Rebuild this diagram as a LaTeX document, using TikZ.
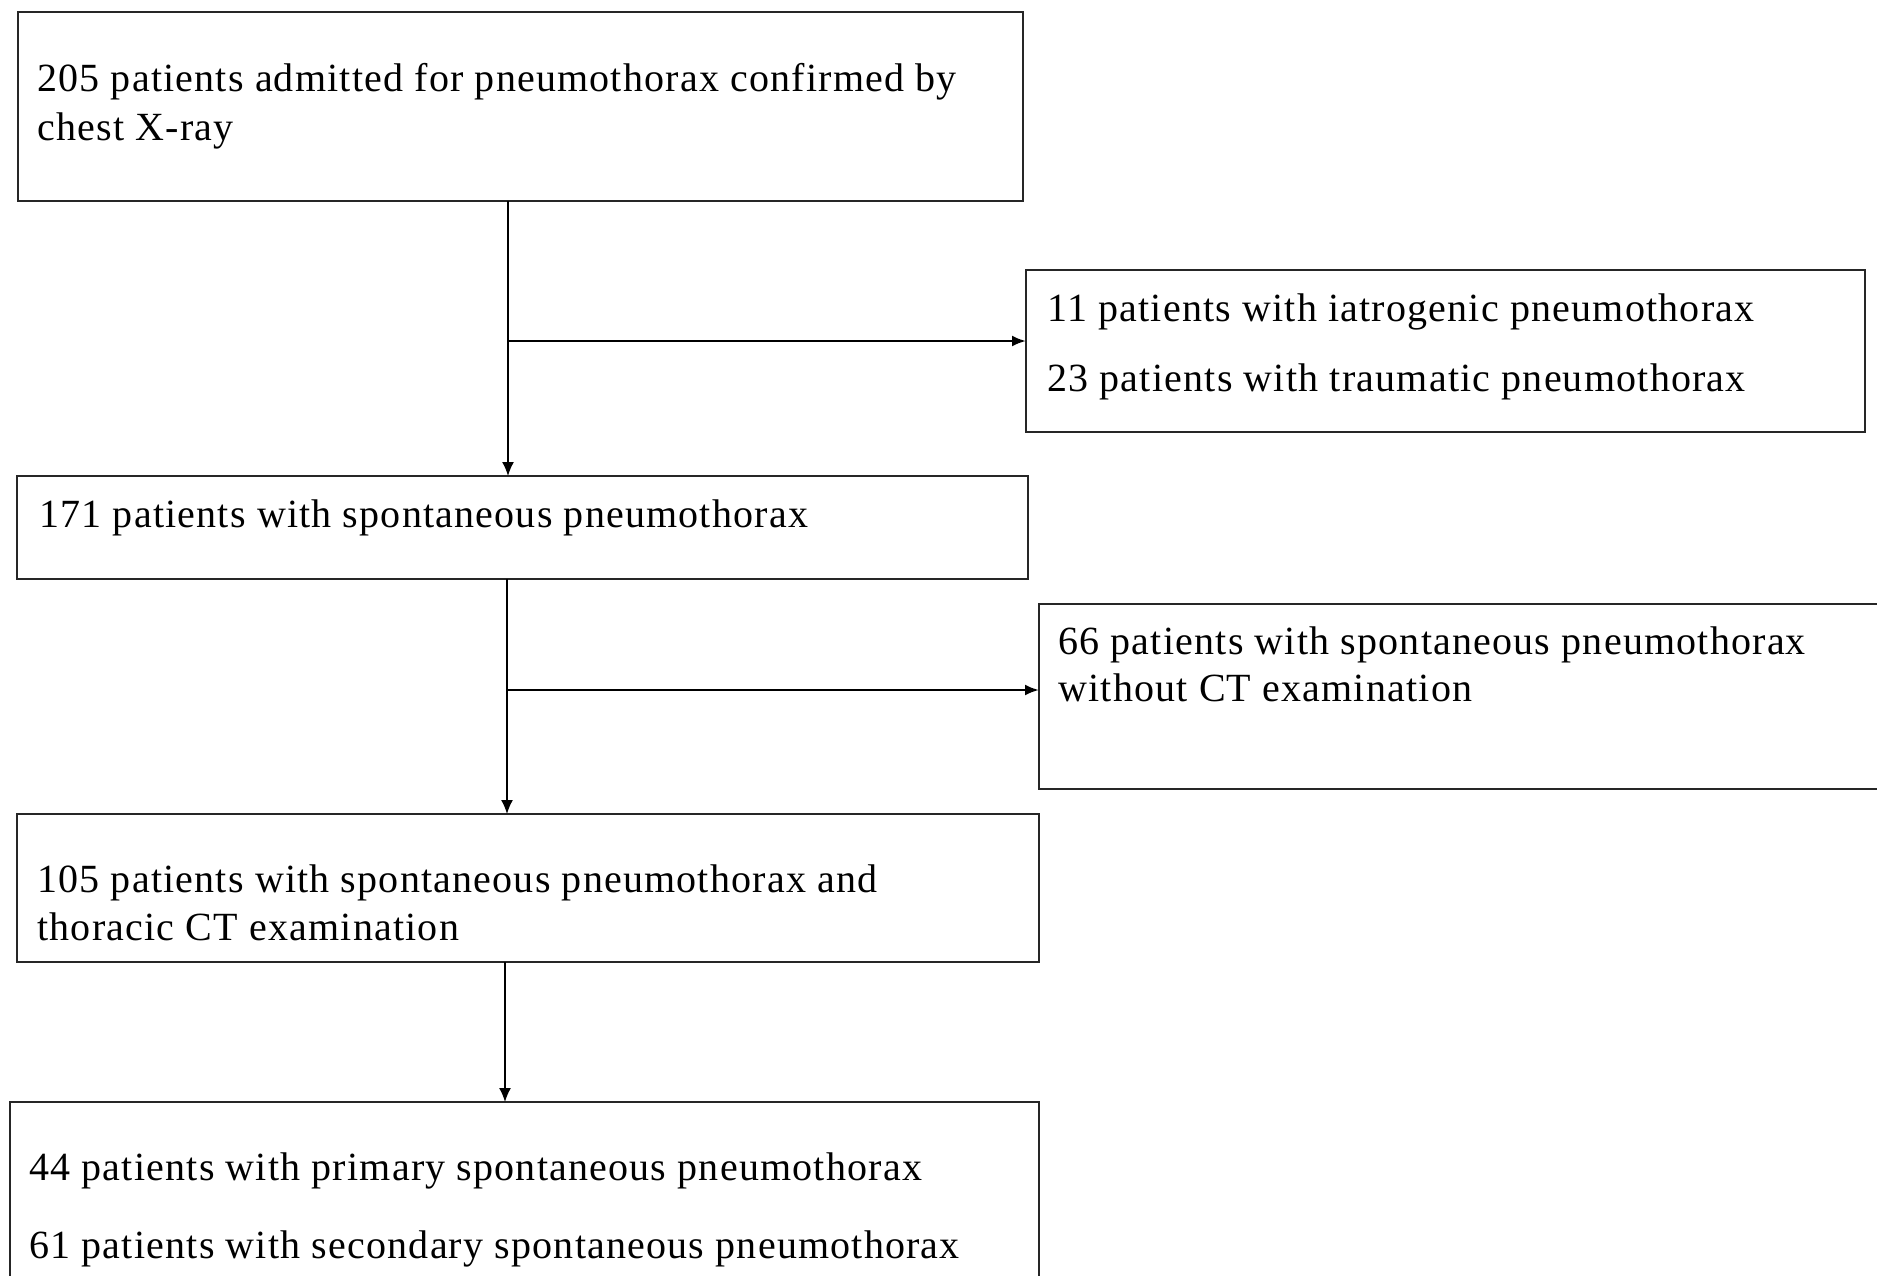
\documentclass[tikz,border=0pt]{standalone}
\usepackage{fontspec}
\setmainfont{Liberation Serif}[LetterSpace=3]
\usetikzlibrary{arrows.meta}
\begin{document}
\begin{tikzpicture}[x=0.5pt,y=-0.5pt,
  box/.style={draw=black!85,line width=1.1pt,inner sep=0pt,outer sep=0pt},
  txt/.style={anchor=base west,inner sep=0pt,font=\fontsize{20pt}{24pt}\selectfont},
  arr/.style={draw=black,line width=0.8pt,-{Latex[length=7pt,width=6pt]}},
  harr/.style={draw=black,line width=1.2pt,-{Latex[length=7pt,width=5.5pt]}}]
\useasboundingbox[fill=white] (0,0) rectangle (1877,1275);
% boxes
\node[box,minimum width=1005pt/2,minimum height=189pt/2,anchor=north west] (b1) at (18,12) {};
\node[box,minimum width=1011pt/2,minimum height=103pt/2,anchor=north west] (b2) at (17,476) {};
\node[box,minimum width=1022pt/2,minimum height=148pt/2,anchor=north west] (b3) at (17,814) {};
\node[box,minimum width=1029pt/2,minimum height=190pt/2,anchor=north west] (b4) at (10,1102) {};
\node[box,minimum width=839pt/2,minimum height=162pt/2,anchor=north west] (s1) at (1026,270) {};
\node[box,minimum width=850pt/2,minimum height=185pt/2,anchor=north west] (s2) at (1039,604) {};
% texts
\node[txt] (t1a) at (37,91) {205 patients admitted for pneumothorax confirmed by};
\node[txt] (t1b) at (37,140) {chest X-ray};
\node[txt] (t2) at (39,527) {171 patients with spontaneous pneumothorax};
\node[txt] (t3a) at (37,892) {105 patients with spontaneous pneumothorax and};
\node[txt] (t3b) at (37,940) {thoracic CT examination};
\node[txt] (t4a) at (29,1180) {44 patients with primary spontaneous pneumothorax};
\node[txt] (t4b) at (29,1258) {61 patients with secondary spontaneous pneumothorax};
\node[txt] (s1a) at (1047,321) {11 patients with iatrogenic pneumothorax};
\node[txt] (s1b) at (1047,391) {23 patients with traumatic pneumothorax};
\node[txt] (s2a) at (1058,654) {66 patients with spontaneous pneumothorax};
\node[txt] (s2b) at (1058,701) {without CT examination};
% junction points
\coordinate (j1) at (508,341);
\coordinate (j2) at (507,690);
\coordinate (j3) at (505,962);
% connectors
\draw[arr] (b1.south -| j1) -- (b2.north -| j1);
\draw[harr] (j1) -- (s1.west |- j1);
\draw[arr] (b2.south -| j2) -- (b3.north -| j2);
\draw[harr] (j2) -- (s2.west |- j2);
\draw[arr] (b3.south -| j3) -- (b4.north -| j3);
\end{tikzpicture}
\end{document}
